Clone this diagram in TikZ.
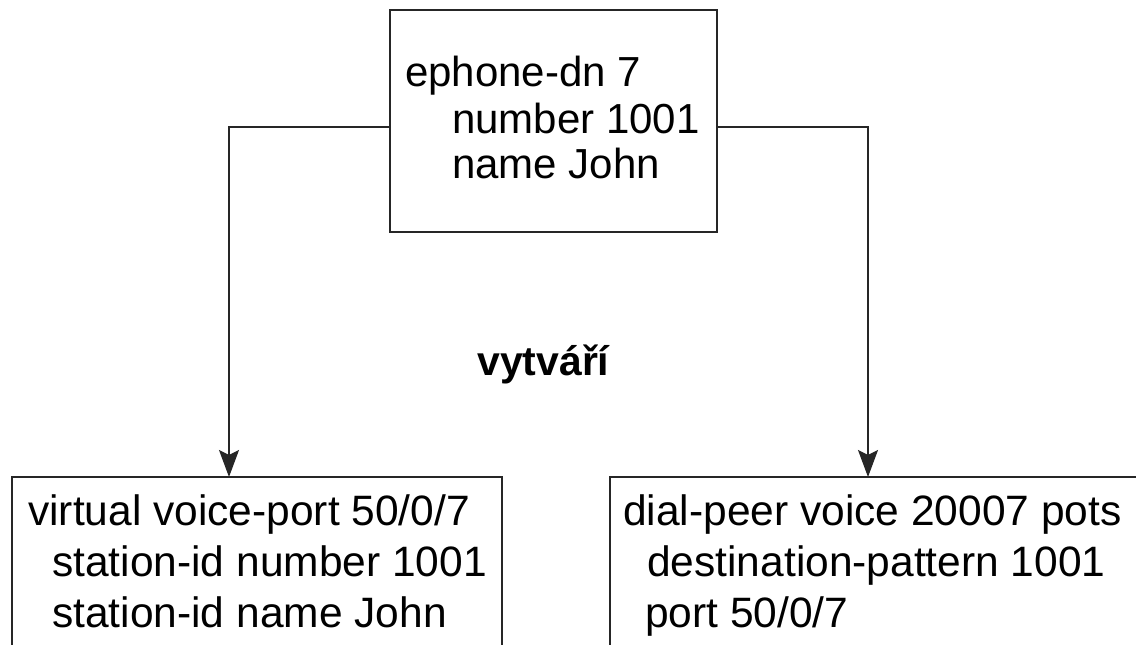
\documentclass[tikz,border=0pt]{standalone}
\usepackage{fontspec}
\setmainfont{Liberation Sans}
\usetikzlibrary{arrows.meta}
\begin{document}
\begin{tikzpicture}[x=1pt,y=-1pt,
  box/.style={draw=black!85, line width=1.7pt, rectangle, inner sep=0pt, outer sep=0pt},
  conn/.style={draw=black!85, line width=1.3pt, -{Stealth[length=27pt,width=20pt,inset=5pt]}},
  ttop/.style={anchor=base west, inner sep=0pt, font=\fontsize{42}{46}\selectfont},
  tbot/.style={anchor=base west, inner sep=0pt, font=\fontsize{42.5}{51}\selectfont},
  lbl/.style={anchor=base west, inner sep=0pt, font=\fontsize{41}{46}\selectfont\bfseries}]
\useasboundingbox (0,0) rectangle (1136,645);
\clip (0,0) rectangle (1136,645);
\fill[white] (0,0) rectangle (1136,645);
% boxes
\node[box, minimum width=327pt, minimum height=222pt] (top) at (553.5,121) {};
\node[box, minimum width=490pt, minimum height=243pt] (left) at (257,598.5) {};
\node[box, minimum width=550pt, minimum height=243pt] (right) at (885,598.5) {};
% connectors
\draw[conn] ([yshift=-6pt]top.west) -| ([xshift=-28pt]left.north);
\draw[conn] ([yshift=-6pt]top.east) -| ([xshift=-17pt]right.north);
% top text
\node[ttop] (t1) at (405,86) {ephone-dn 7};
\node[ttop] (t2) at (452,133) {number 1001};
\node[ttop] (t3) at (452,178) {name John};
% left text
\node[tbot] (l1) at (28,525) {virtual voice-port 50/0/7};
\node[tbot] (l2) at (52,576) {station-id number 1001};
\node[tbot] (l3) at (52,627) {station-id name John};
% right text
\node[tbot] (r1) at (623,525) {dial-peer voice 20007 pots};
\node[tbot] (r2) at (647,576) {destination-pattern 1001};
\node[tbot] (r3) at (645,627) {port 50/0/7};
% label
\node[lbl] (lab) at (477,375) {vytváří};
\end{tikzpicture}
\end{document}
